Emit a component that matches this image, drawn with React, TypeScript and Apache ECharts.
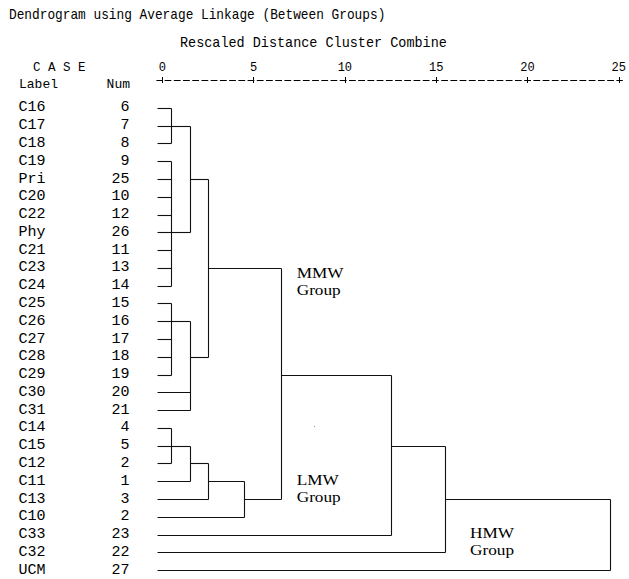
import React, { useEffect, useRef } from "react";
import * as echarts from "echarts";

const caseLabels = ["C16","C17","C18","C19","Pri","C20","C22","Phy","C21","C23","C24","C25","C26","C27","C28","C29","C30","C31","C14","C15","C12","C11","C13","C10","C33","C32","UCM"];
const caseNums = [6,7,8,9,25,10,12,26,11,13,14,15,16,17,18,19,20,21,4,5,2,1,3,2,23,22,27];
const tickValues = [0, 5, 10, 15, 20, 25];

// merges: children refer to leaves as "L<i>" and to earlier merges as "M<i>"
const mergeChildren = [
  ["L0","L1","L2"],
  ["L3","L4","L5","L6","L7","L8","L9","L10"],
  ["M0","M1"],
  ["L11","L12","L13","L14","L15"],
  ["M3","L16","L17"],
  ["M2","M4"],
  ["L18","L19","L20"],
  ["M6","L21"],
  ["M7","L22"],
  ["M8","L23"],
  ["M5","M9"],
  ["M10","L24"],
  ["M11","L25"],
  ["M12","L26"],
];
const mergeHeights = [0.5, 0.5, 1.5, 0.5, 1.5, 2.5, 0.5, 1.5, 2.5, 4.5, 6.5, 12.5, 15.5, 24.5];
const mergeRows = [1, 7, 4, 12, 14, 9, 19, 20, 21, 22, 15, 19, 22, 24];
const LEAF_START = -0.27;

const groupNotes = [
  { name: "MMW", x: 296.7, y: 273 },
  { name: "LMW", x: 296.7, y: 480 },
  { name: "HMW", x: 470, y: 533 },
];

function buildSegments() {
  const segs: number[][] = [];
  const nodeOf = (id: string) => {
    const k = parseInt(id.slice(1), 10);
    if (id[0] === "L") return { x: LEAF_START, row: k };
    return { x: mergeHeights[k], row: mergeRows[k] };
  };
  mergeChildren.forEach((ch, i) => {
    const h = mergeHeights[i];
    const rows = ch.map((c) => nodeOf(c).row);
    segs.push([h, Math.min(...rows), h, Math.max(...rows)]);
    ch.forEach((c) => {
      const n = nodeOf(c);
      segs.push([n.x, n.row, h, n.row]);
    });
  });
  return segs;
}

export default function App() {
  const ref = useRef<HTMLDivElement>(null);
  useEffect(() => {
    if (!ref.current) return;
    const chart = echarts.init(ref.current, null, { renderer: "svg" });
    const gridLeft = 156.77;
    const gridTop = 99;
    const mono = "Liberation Mono";
    const serif = "Liberation Serif";
    const graphics: any[] = [
      { type: "text", x: 9, y: 15, scaleX: 0.915, style: { text: "Dendrogram using Average Linkage (Between Groups)", font: `14px '${mono}'`, fill: "#000", verticalAlign: "middle" } },
      { type: "text", x: 180, y: 43, scaleX: 0.963, style: { text: "Rescaled Distance Cluster Combine", font: `14px '${mono}'`, fill: "#000", verticalAlign: "middle" } },
      { type: "text", x: 33, y: 68, style: { text: "C A S E", font: `12.5px '${mono}'`, fill: "#000", verticalAlign: "middle" } },
      { type: "text", x: 19, y: 84, style: { text: "Label", font: `13px '${mono}'`, fill: "#000", verticalAlign: "middle" } },
      { type: "text", x: 130, y: 84, style: { text: "Num", font: `13px '${mono}'`, fill: "#000", verticalAlign: "middle", align: "right" } },
      { type: "rect", shape: { x: 314, y: 426, width: 1, height: 1 }, style: { fill: "#999" } },
    ];
    groupNotes.forEach((g) => {
      graphics.push({ type: "text", x: g.x, y: g.y, scaleX: 1.23, style: { text: g.name, font: `14px '${serif}'`, fill: "#000", verticalAlign: "middle" } });
      graphics.push({ type: "text", x: g.x, y: g.y + 17, scaleX: 1.23, style: { text: "Group", font: `14px '${serif}'`, fill: "#000", verticalAlign: "middle" } });
    });
    chart.setOption({
      animation: false,
      backgroundColor: "#fff",
      grid: { left: gridLeft, top: gridTop, width: 470.23, height: 486, containLabel: false },
      xAxis: [
        {
          type: "value", position: "top", min: -0.3, max: 25.2, offset: 19,
          axisLine: { show: true, lineStyle: { color: "#000", width: 1, type: [6, 3.22], dashOffset: 1 } },
          axisTick: { show: true, inside: false, length: 3, customValues: tickValues, lineStyle: { color: "#000" } },
          axisLabel: { show: true, customValues: tickValues, margin: 6, fontFamily: mono, fontSize: 12, color: "#000" },
          splitLine: { show: false },
        },
        {
          type: "value", position: "top", min: -0.3, max: 25.2, offset: 19,
          axisLine: { show: false },
          axisTick: { show: true, inside: true, length: 3, customValues: tickValues, lineStyle: { color: "#000" } },
          axisLabel: { show: false },
          splitLine: { show: false },
        },
      ],
      yAxis: {
        type: "category", inverse: true, data: caseLabels,
        axisLine: { show: false }, axisTick: { show: false }, splitLine: { show: false },
        axisLabel: {
          interval: 0, margin: 27.3, fontFamily: mono, fontSize: 15, color: "#000",
          formatter: (v: string, i: number) => `{a|${v}}{b|${caseNums[i]}}`,
          rich: {
            a: { width: 93, align: "left", fontFamily: mono, fontSize: 15, color: "#000" },
            b: { width: 18, align: "right", fontFamily: mono, fontSize: 15, color: "#000" },
          },
        },
      },
      series: [
        {
          type: "custom",
          xAxisIndex: 0, yAxisIndex: 0,
          data: buildSegments(),
          encode: { x: [0, 2], y: [1, 3] },
          renderItem: (params: any, api: any) => {
            const p1 = api.coord([api.value(0), api.value(1)]);
            const p2 = api.coord([api.value(2), api.value(3)]);
            const r = (v: number) => Math.round(v) + 0.5;
            return {
              type: "line",
              shape: { x1: r(p1[0]), y1: r(p1[1]), x2: r(p2[0]), y2: r(p2[1]) },
              style: { stroke: "#111", lineWidth: 1.1 },
            };
          },
        },
      ],
      graphic: graphics,
    });
    return () => chart.dispose();
  }, []);
  return <div ref={ref} style={{ position: "fixed", left: 0, top: 0, width: 629, height: 579 }} />;
}
